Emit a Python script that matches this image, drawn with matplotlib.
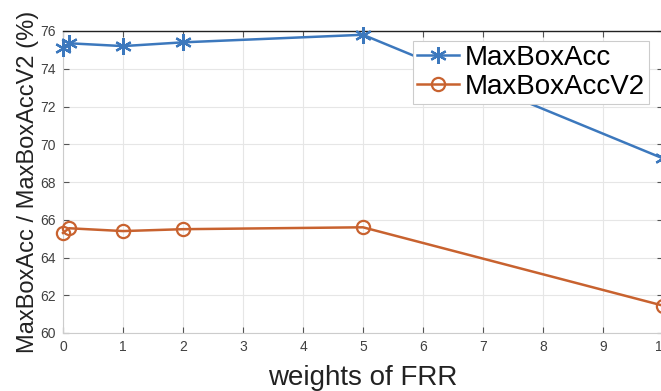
import matplotlib.pyplot as plt

plt.rcParams['font.family'] = ['Liberation Sans', 'DejaVu Sans']

weights = [0, 0.1, 1, 2, 5, 10]
max_box_acc = [75.1, 75.35, 75.2, 75.4, 75.8, 69.25]
max_box_acc_v2 = [65.3, 65.55, 65.4, 65.5, 65.6, 61.45]

fig = plt.figure(figsize=(6.61, 3.91), dpi=100)
ax = fig.add_axes([63 / 661, 58 / 391, 600 / 661, 302 / 391])

# MATLAB style asterisk and hollow circle markers
ax.plot(weights, max_box_acc, color='#3c78bd', marker=(6, 2, 0), markersize=12,
        markeredgewidth=1.6, linewidth=1.8, label='MaxBoxAcc', clip_on=False, zorder=3)
ax.plot(weights, max_box_acc_v2, color='#c8622f', marker='o', markersize=9.5,
        markerfacecolor='none', markeredgewidth=1.6, linewidth=1.8,
        label='MaxBoxAccV2', clip_on=False, zorder=3)

ax.set_xlim(0, 10)
ax.set_ylim(60, 76)
ax.set_xticks(range(0, 11))
ax.set_yticks(range(60, 77, 2))
ax.grid(True, color='#e6e6e6', linewidth=0.8)
ax.set_axisbelow(True)

ax.tick_params(direction='in', top=True, right=True, length=4, width=0.8,
               colors='#555555', labelsize=10, labelcolor='#404040', pad=5)
for side in ['left', 'bottom', 'right']:
    ax.spines[side].set_color('#cccccc')
ax.spines['top'].set_color('#222222')
ax.spines['top'].set_linewidth(1.0)

ax.set_xlabel('weights of FRR', fontsize=20, color='#222222', labelpad=8)
ax.set_ylabel('MaxBoxAcc / MaxBoxAccV2 (%)', fontsize=17, color='#222222', labelpad=1)

leg = ax.legend(loc='upper left', bbox_to_anchor=(413 / 661, 1 - 41 / 391),
                bbox_transform=fig.transFigure, fontsize=20, handlelength=1.5,
                handletextpad=0.2, borderpad=0.15, labelspacing=0.1,
                borderaxespad=0, fancybox=False, framealpha=1)
leg.get_frame().set_edgecolor('#cccccc')
leg.get_frame().set_linewidth(0.8)

fig.savefig('out.png', dpi=100)
